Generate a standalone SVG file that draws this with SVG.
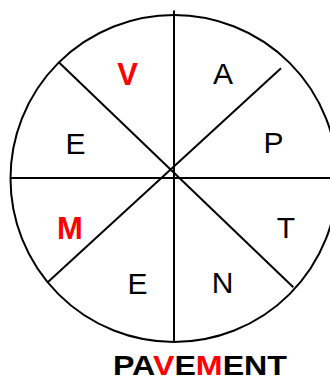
<svg xmlns="http://www.w3.org/2000/svg" width="330" height="379" viewBox="0 0 330 379">
<style>
.ln{stroke:#000;stroke-width:2;fill:none}
.t{font-family:"Liberation Sans",Arial,sans-serif;font-size:30px;fill:#000;text-anchor:middle}
.r{font-weight:bold;fill:#ff0000;font-size:31px}
.title{font-family:"Liberation Sans",Arial,sans-serif;font-size:28px;font-weight:bold;fill:#000}
</style>
<rect width="330" height="379" fill="#fff"/>
<g id="wheel">
<circle class="ln" cx="174" cy="178.5" r="163.5"/>
</g>
<g id="connectors">
<line class="ln" x1="174" y1="10.5" x2="174" y2="342"/>
<line class="ln" x1="11" y1="178" x2="330" y2="178"/>
<line class="ln" x1="59.3" y1="62.7" x2="293.3" y2="287.3"/>
<line class="ln" x1="281" y1="68.3" x2="47.7" y2="282.3"/>
</g>
<g id="seg-V"><text class="t r" x="127.5" y="85">V</text></g>
<g id="seg-A"><text class="t" x="223" y="84">A</text></g>
<g id="seg-P"><text class="t" x="273.5" y="153">P</text></g>
<g id="seg-T"><text class="t" x="286" y="238">T</text></g>
<g id="seg-N"><text class="t" x="222.5" y="293">N</text></g>
<g id="seg-E2"><text class="t" x="137.5" y="293.5">E</text></g>
<g id="seg-M"><text class="t r" x="70" y="239">M</text></g>
<g id="seg-E1"><text class="t" x="75.5" y="153.5">E</text></g>
<g id="title"><text class="title" x="113" y="374.5" textLength="174" lengthAdjust="spacingAndGlyphs">PA<tspan fill="#ff0000">V</tspan>E<tspan fill="#ff0000">M</tspan>ENT</text></g>
</svg>
